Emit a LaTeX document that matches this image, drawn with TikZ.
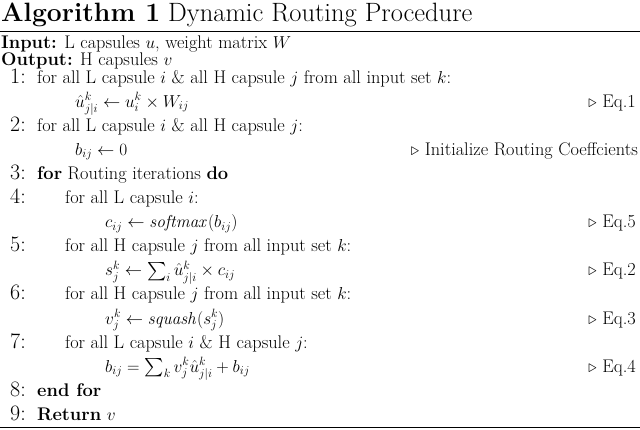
\documentclass[tikz,border=0pt]{standalone}
\usepackage{amsmath,amssymb}
\begin{document}
\begin{tikzpicture}[x=1pt,y=-1pt,
  t/.style={anchor=base west,inner sep=0pt,font=\fontsize{18.3}{20}\selectfont},
  num/.style={anchor=base east,inner sep=0pt,font=\fontsize{22}{24}\selectfont},
  cmt/.style={anchor=base east,inner sep=0pt,font=\fontsize{18.3}{20}\selectfont}]
\useasboundingbox (0,0) rectangle (640,429);
\node[anchor=base west,inner sep=0pt,font=\fontsize{26.5}{28}\selectfont] (title) at (1,21) {\textbf{Algorithm 1} Dynamic Routing Procedure};
\draw[line width=1pt] (0,31) -- (640,31);
\node[t] (in) at (1,48) {\textbf{Input:} L capsules $u$, weight matrix $W$};
\node[t] (out) at (1,65) {\textbf{Output:} H capsules $v$};
\def\L{24.1}
\def\B{83}
\foreach \n/\k in {1/0,2/2,3/4,4/5,5/7,6/9,7/11,8/13,9/14}{
  \node[num] (n\n) at (26,{\B+\k*\L}) {\n:};}
\node[t] (l1) at (37,\B) {for all L capsule $i$ \& all H capsule $j$ from all input set $k$:};
\node[t] (e1) at (75,{\B+1*\L}) {$\hat{u}^k_{j|i} \leftarrow u^k_i \times W_{ij}$};
\node[cmt] (c1) at (636,{\B+1*\L}) {$\triangleright$ Eq.1};
\node[t] (l2) at (37,{\B+2*\L}) {for all L capsule $i$ \& all H capsule $j$:};
\node[t] (e2) at (75,{\B+3*\L}) {$b_{ij} \leftarrow 0$};
\node[cmt] (c2) at (638,{\B+3*\L}) {$\triangleright$ Initialize Routing Coeffcients};
\node[t] (l3) at (37,{\B+4*\L}) {\textbf{for} Routing iterations \textbf{do}};
\node[t] (l4) at (65,{\B+5*\L}) {for all L capsule $i$:};
\node[t] (e4) at (105,{\B+6*\L}) {$c_{ij} \leftarrow \mathit{softmax}(b_{ij})$};
\node[cmt] (c4) at (636,{\B+6*\L}) {$\triangleright$ Eq.5};
\node[t] (l5) at (65,{\B+7*\L}) {for all H capsule $j$ from all input set $k$:};
\node[t] (e5) at (105,{\B+8*\L}) {$s^k_j \leftarrow \sum_i \hat{u}^k_{j|i} \times c_{ij}$};
\node[cmt] (c5) at (636,{\B+8*\L}) {$\triangleright$ Eq.2};
\node[t] (l6) at (65,{\B+9*\L}) {for all H capsule $j$ from all input set $k$:};
\node[t] (e6) at (105,{\B+10*\L}) {$v^k_j \leftarrow \mathit{squash}(s^k_j)$};
\node[cmt] (c6) at (636,{\B+10*\L}) {$\triangleright$ Eq.3};
\node[t] (l7) at (65,{\B+11*\L}) {for all L capsule $i$ \& H capsule $j$:};
\node[t] (e7) at (105,{\B+12*\L}) {$b_{ij} = \sum_k v^k_j \hat{u}^k_{j|i} + b_{ij}$};
\node[cmt] (c7) at (636,{\B+12*\L}) {$\triangleright$ Eq.4};
\node[t] (l8) at (37,{\B+13*\L}) {\textbf{end for}};
\node[t] (l9) at (37,{\B+14*\L}) {\textbf{Return} $v$};
\draw[line width=0.7pt] (0,427.5) -- (640,427.5);
\end{tikzpicture}
\end{document}
